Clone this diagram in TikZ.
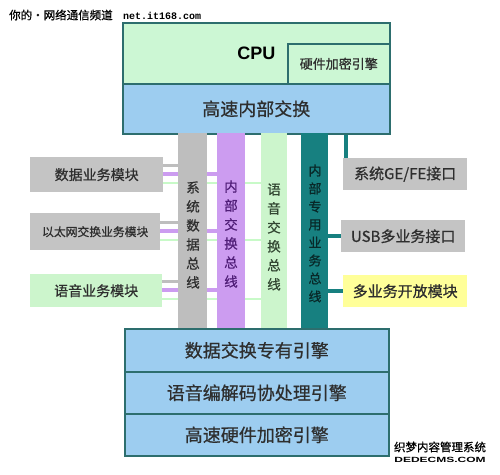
\documentclass[tikz,border=0pt]{standalone}
\usepackage{fontspec}
\setmainfont{Noto Sans CJK SC}[FakeBold=0.7]
\newfontfamily\cpufont{Liberation Sans}
\newfontfamily\monofont{Liberation Mono}
\newfontfamily\wmfont{Liberation Sans}
\definecolor{cpugreen}{HTML}{CCF7D4}
\definecolor{xblue}{HTML}{9DCDF0}
\definecolor{edge}{HTML}{2D6E6E}
\definecolor{modgray}{HTML}{C4C4C4}
\definecolor{busgray}{HTML}{BEBEBE}
\definecolor{buspurple}{HTML}{CC9CF0}
\definecolor{lgreen}{HTML}{CCF5CC}
\definecolor{teal2}{HTML}{178080}
\definecolor{yel}{HTML}{FFFF99}
\definecolor{txt}{HTML}{2E2E2E}
\begin{document}
\begin{tikzpicture}[x=1pt,y=-1pt,
  blk/.style={draw=edge, line width=1.6pt, anchor=north west, inner sep=0pt, text=txt},
  bus/.style={anchor=north west, inner sep=0pt, minimum height=195pt},
  mod/.style={anchor=north west, inner sep=0pt, text=txt},
  vtext/.style={align=center, inner sep=0pt, font=\fontsize{13.5}{19}\selectfont},
  grayline/.style={draw=busgray, line width=3pt},
  purpleline/.style={draw=buspurple, line width=4pt},
  greenline/.style={draw=lgreen!80!green!60!white, line width=2pt},
  tealline/.style={draw=teal2, line width=4pt}
]
\useasboundingbox[fill=white] (0,0) rectangle (500,474);

% watermark top
\node[anchor=west, inner sep=0pt, font=\fontsize{11.5}{12}\selectfont] (wm1) at (9,15) {你的·网络通信频道};
\node[anchor=west, inner sep=0pt, font=\monofont\bfseries\fontsize{10}{12}\selectfont] (wm2) at (123,16) {net.it168.com};

% top block
\node[blk, fill=cpugreen, minimum width=267pt, minimum height=61pt, font=\cpufont\bfseries\fontsize{18}{20}\selectfont, text=black] (cpu) at (122,22) {CPU};
\node[blk, fill=cpugreen, minimum width=102pt, minimum height=40pt, font=\fontsize{13}{15}\selectfont] (hwenc) at (287,43) {硬件加密引擎};
\node[blk, fill=xblue, minimum width=267pt, minimum height=50pt, font=\fontsize{18}{20}\selectfont] (xchg) at (122,83) {高速内部交换};

% left modules
\node[mod, fill=modgray, minimum width=133pt, minimum height=35pt, font=\fontsize{14}{16}\selectfont] (modData) at (30,157) {数据业务模块};
\node[mod, fill=modgray, minimum width=130pt, minimum height=37pt, font=\fontsize{11.8}{14}\selectfont] (modEth) at (30,213) {以太网交换业务模块};
\node[mod, fill=lgreen, minimum width=132pt, minimum height=33pt, font=\fontsize{14}{16}\selectfont] (modVoice) at (30,274) {语音业务模块};

% right modules
\node[mod, fill=modgray, minimum width=124pt, minimum height=32pt, font=\fontsize{15}{17}\selectfont] (ifGE) at (343,158) {系统GE/FE接口};
\node[mod, fill=modgray, minimum width=124pt, minimum height=32pt, font=\fontsize{15}{17}\selectfont] (ifUSB) at (341,220) {USB多业务接口};
\node[mod, fill=yel, minimum width=124pt, minimum height=32pt, font=\fontsize{15}{17}\selectfont] (modOpen) at (343,275) {多业务开放模块};

% bus positions
\path (178,133) node[bus, minimum width=29pt] (busA) {};
\path (217,133) node[bus, minimum width=28pt] (busB) {};
\path (261,133) node[bus, minimum width=26pt] (busC) {};
\path (301,133) node[bus, minimum width=27pt] (busD) {};

% connectors from left modules (behind buses)
\foreach \m in {modData,modEth,modVoice}{
  \draw[greenline] ([yshift=-8pt]\m.east) -- ([yshift=-8pt]\m.east -| busC.center);
  \draw[purpleline] ([yshift=1pt]\m.east) -- ([yshift=1pt]\m.east -| busB.center);
  \draw[grayline] ([yshift=9pt]\m.east) -- ([yshift=9pt]\m.east -| busA.center);
}

% buses
\fill[busgray] (busA.north west) rectangle (busA.south east);
\fill[buspurple] (busB.north west) rectangle (busB.south east);
\fill[lgreen] (busC.north west) rectangle (busC.south east);
\fill[teal2] (busD.north west) rectangle (busD.south east);

\node[vtext, text=txt] (tA) at (193,235) {系\\统\\数\\据\\总\\线};
\node[vtext, text={rgb,255:red,80;green,30;blue,120}] (tB) at (231,234) {内\\部\\交\\换\\总\\线};
\node[vtext, text={rgb,255:red,50;green,70;blue,50}] (tC) at (274,237) {语\\音\\交\\换\\总\\线};
\node[vtext, text={rgb,255:red,8;green,40;blue,40}, font=\fontsize{13}{18}\selectfont] (tD) at (315,233.5) {内\\部\\专\\用\\业\\务\\总\\线};

% right connectors
\draw[tealline] (busD.east |- ifUSB.west) -- (ifUSB.west);
\draw[tealline] (busD.east |- modOpen.west) -- (modOpen.west);
\draw[tealline] ([xshift=3pt]ifGE.north west) -- ([xshift=3pt]ifGE.north west |- xchg.south);

% bottom engines
\node[blk, fill=xblue, minimum width=264pt, minimum height=43pt, font=\fontsize{18}{20}\selectfont] (eng1) at (124,328) {数据交换专有引擎};
\node[blk, fill=xblue, minimum width=264pt, minimum height=42pt, font=\fontsize{18}{20}\selectfont] (eng2) at (124,371) {语音编解码协处理引擎};
\node[blk, fill=xblue, minimum width=264pt, minimum height=42pt, font=\fontsize{18}{20}\selectfont] (eng3) at (124,413) {高速硬件加密引擎};

% bottom-right watermark
\node[inner sep=0pt, font=\fontsize{11.5}{12}\selectfont] (wm3) at (440,447) {织梦内容管理系统};
\node[inner sep=0pt, font=\wmfont\bfseries\fontsize{7.5}{8}\selectfont] (wm4) at (440,460) {\scalebox{1.6}[1]{DEDECMS.COM}};
\end{tikzpicture}
\end{document}
